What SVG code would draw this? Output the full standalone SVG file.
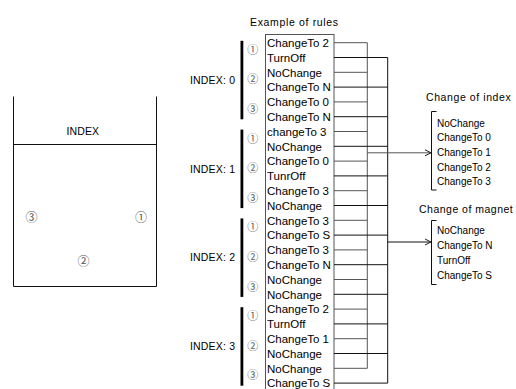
<svg xmlns="http://www.w3.org/2000/svg" width="516" height="389" viewBox="0 0 516 389">
<style>
.t{font-family:"Liberation Sans",Arial,sans-serif;fill:#000}
.row{font-size:11.5px}
.lab{font-size:10.5px}
.li{font-size:10px}
.cd{font-family:"Noto Sans CJK JP","DejaVu Sans",sans-serif;fill:#555;text-anchor:middle}
.ln{stroke:#111;stroke-width:1;fill:none}
.lg{stroke:#555;stroke-width:1;fill:none}
.bar{fill:#000}
</style>
<defs>
<marker id="ah" markerWidth="8" markerHeight="8" refX="7" refY="4" orient="auto" markerUnits="userSpaceOnUse">
<path d="M1,1 L7,4 L1,7" fill="none" stroke="#222" stroke-width="1"/>
</marker>
</defs>

<g id="index-box">
<path class="ln" d="M13.5,96.5 V286.5 H156.5 V96.5 M13.5,144.5 H156.5" stroke="#333"/>
<text class="t lab" x="66.5" y="134.5" textLength="32.5" lengthAdjust="spacing">INDEX</text>
<text class="cd" x="31.5" y="221.5" font-size="12">③</text>
<text class="cd" x="141" y="221.5" font-size="12">①</text>
<text class="cd" x="83.5" y="266" font-size="12">②</text>
</g>

<g id="title">
<text class="t lab" x="250" y="26" textLength="88" lengthAdjust="spacing">Example of rules</text>
</g>

<g id="group-0">
<text class="t lab" x="190" y="83.7" textLength="45" lengthAdjust="spacing">INDEX: 0</text>
<rect class="bar" x="240.5" y="40.8" width="2.8" height="78.5"/>
<text class="cd" x="252.7" y="53.8" font-size="11">①</text>
<text class="cd" x="252.7" y="83.4" font-size="11">②</text>
<text class="cd" x="252.7" y="113" font-size="11">③</text>
</g>
<g id="group-1">
<text class="t lab" x="190" y="172.5" textLength="45" lengthAdjust="spacing">INDEX: 1</text>
<rect class="bar" x="240.5" y="129.6" width="2.8" height="78.5"/>
<text class="cd" x="252.7" y="142.6" font-size="11">①</text>
<text class="cd" x="252.7" y="172.2" font-size="11">②</text>
<text class="cd" x="252.7" y="201.8" font-size="11">③</text>
</g>
<g id="group-2">
<text class="t lab" x="190" y="261.3" textLength="45" lengthAdjust="spacing">INDEX: 2</text>
<rect class="bar" x="240.5" y="218.4" width="2.8" height="78.5"/>
<text class="cd" x="252.7" y="231.4" font-size="11">①</text>
<text class="cd" x="252.7" y="261" font-size="11">②</text>
<text class="cd" x="252.7" y="290.6" font-size="11">③</text>
</g>
<g id="group-3">
<text class="t lab" x="190" y="350.3" textLength="45" lengthAdjust="spacing">INDEX: 3</text>
<rect class="bar" x="240.5" y="307.2" width="2.8" height="78.5"/>
<text class="cd" x="252.7" y="320.2" font-size="11">①</text>
<text class="cd" x="252.7" y="349.8" font-size="11">②</text>
<text class="cd" x="252.7" y="379.4" font-size="11">③</text>
</g>

<g id="rules">
<rect x="265.5" y="34.5" width="68.5" height="360" fill="#fff" stroke="#555" stroke-width="1"/>
<g class="t row">
<text x="267" y="46.9">ChangeTo 2</text>
<text x="267" y="61.7">TurnOff</text>
<text x="267" y="76.5">NoChange</text>
<text x="267" y="91.3">ChangeTo N</text>
<text x="267" y="106.1">ChangeTo 0</text>
<text x="267" y="120.9">ChangeTo N</text>
<text x="267" y="135.7">changeTo 3</text>
<text x="267" y="150.5">NoChange</text>
<text x="267" y="165.3">ChangeTo 0</text>
<text x="267" y="180.1">TunrOff</text>
<text x="267" y="194.9">ChangeTo 3</text>
<text x="267" y="209.7">NoChange</text>
<text x="267" y="224.5">ChangeTo 3</text>
<text x="267" y="239.3">ChangeTo S</text>
<text x="267" y="254.1">ChangeTo 3</text>
<text x="267" y="268.9">ChangeTo N</text>
<text x="267" y="283.7">NoChange</text>
<text x="267" y="298.5">NoChange</text>
<text x="267" y="313.3">ChangeTo 2</text>
<text x="267" y="328.1">TurnOff</text>
<text x="267" y="342.9">ChangeTo 1</text>
<text x="267" y="357.7">NoChange</text>
<text x="267" y="372.5">NoChange</text>
<text x="267" y="387.3">ChangeTo S</text>
</g>
</g>

<g id="connectors">
<path class="lg" d="M334,42.7H367.3 M334,72.3H367.3 M334,101.9H367.3 M334,131.5H367.3 M334,161.1H367.3 M334,190.7H367.3 M334,220.3H367.3 M334,249.9H367.3 M334,279.5H367.3 M334,309.1H367.3 M334,338.7H367.3 M334,368.3H367.3 M367.3,42.7V368.3"/>
<path class="ln" d="M334,57.5H387.7 M334,87.1H387.7 M334,116.7H387.7 M334,146.3H387.7 M334,175.9H387.7 M334,205.5H387.7 M334,235.1H387.7 M334,264.7H387.7 M334,294.3H387.7 M334,323.9H387.7 M334,353.5H387.7 M334,383.1H387.7 M387.7,57.5V383.1"/>
<path class="lg" d="M367.3,152.8H431" marker-end="url(#ah)"/>
<path class="ln" d="M387.7,242H431" marker-end="url(#ah)"/>
</g>

<g id="index-changes">
<text class="t lab" x="426" y="100.7" textLength="84.7" lengthAdjust="spacing">Change of index</text>
<path class="ln" d="M436.5,111.5H431.5V190H436.5" stroke="#333"/>
<g class="t li">
<text x="437" y="126.7">NoChange</text>
<text x="437" y="141.3">ChangeTo 0</text>
<text x="437" y="155.9">ChangeTo 1</text>
<text x="437" y="170.5">ChangeTo 2</text>
<text x="437" y="185.1">ChangeTo 3</text>
</g>
</g>

<g id="magnet-changes">
<text class="t lab" x="419" y="212.7" textLength="93.7" lengthAdjust="spacing">Change of magnet</text>
<path class="ln" d="M436.5,220.5H431.5V284.5H436.5" stroke="#333"/>
<g class="t li">
<text x="437" y="233.5">NoChange</text>
<text x="437" y="248.7">ChangeTo N</text>
<text x="437" y="263.9">TurnOff</text>
<text x="437" y="279.1">ChangeTo S</text>
</g>
</g>
</svg>
